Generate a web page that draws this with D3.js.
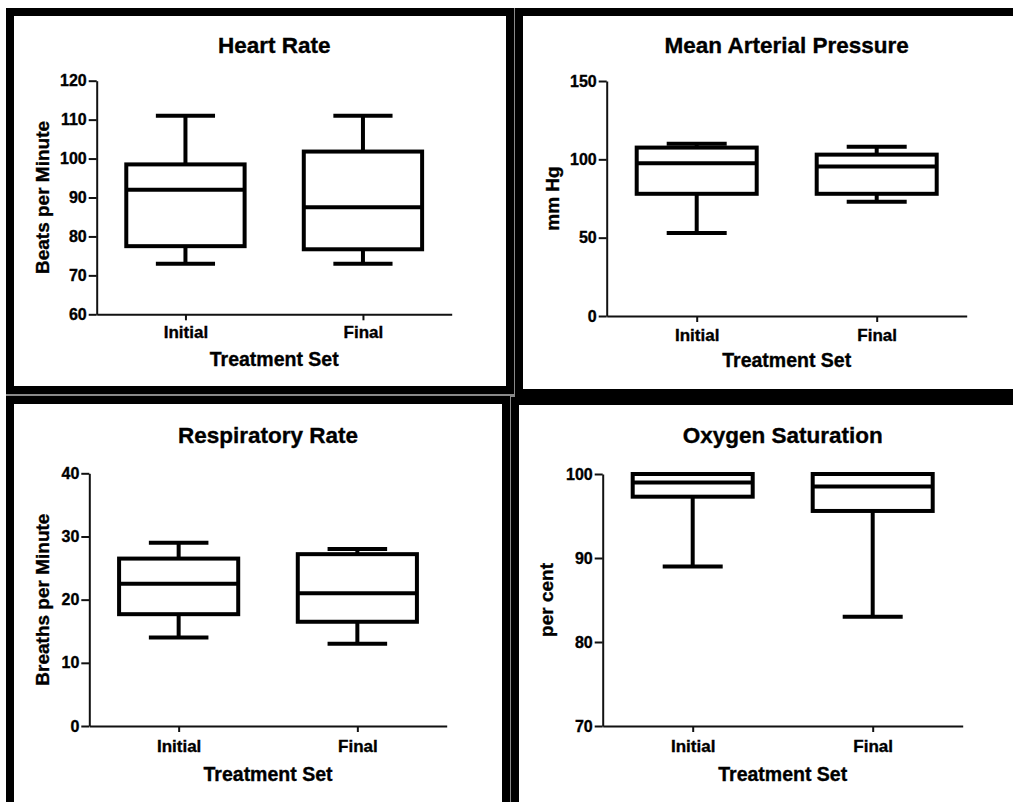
<!DOCTYPE html>
<html>
<head>
<meta charset="utf-8">
<script src="https://cdn.jsdelivr.net/npm/d3@7"></script>
<style>
  body { margin: 0; background: #fff; }
  svg { display: block; font-family: "Liberation Sans", Arial, sans-serif; font-weight: bold; }
  svg text { stroke: #000; stroke-width: 0.35; }
  .axis path, .axis line { stroke: #111; stroke-width: 2; }
  .axis text { fill: #000; font-weight: bold; }
</style>
</head>
<body>
<svg id="chart" width="1013" height="802"></svg>
<script>
// categories on the x axis
var categories = ["Initial", "Final"];

// box stats: [min, q1, median, q3, max]
var hrInitial = [73, 77.5, 92, 98.5, 111];
var hrFinal = [73, 76.7, 87.5, 101.8, 111];
var mapInitial = [53, 78, 97.5, 107.5, 110];
var mapFinal = [73, 78, 95.5, 103, 108];
var rrInitial = [14, 17.7, 22.5, 26.5, 29];
var rrFinal = [13, 16.5, 21, 27.2, 28];
var spoInitial = [89, 97.3, 99, 100, 100];
var spoFinal = [83, 95.6, 98.5, 100, 100];

// tick values for each y axis
var hrTicks = [60, 70, 80, 90, 100, 110, 120];
var mapTicks = [0, 50, 100, 150];
var rrTicks = [0, 10, 20, 30, 40];
var spoTicks = [70, 80, 90, 100];

var titles = ["Heart Rate", "Mean Arterial Pressure", "Respiratory Rate", "Oxygen Saturation"];
var yLabels = ["Beats per Minute", "mm Hg", "Breaths per Minute", "per cent"];
var xLabel = "Treatment Set";

// panel layout (frame and plot area, in pixels)
var panels = [
  { frame: [6, 8, 508, 386], left: 96.7, right: 451.7, top: 80.7, bottom: 314.3,
    titleY: 53.3, tickY: 337.7, xLabelY: 366, yLabelX: 48.6,
    stats: [hrInitial, hrFinal], ticks: hrTicks },
  { frame: [515, 8, 520, 389], left: 606.7, right: 966.7, top: 81, bottom: 316,
    titleY: 53.3, tickY: 340.7, xLabelY: 367.3, yLabelX: 558.6,
    stats: [mapInitial, mapFinal], ticks: mapTicks },
  { frame: [6, 396, 504, 430], left: 89.3, right: 446.7, top: 473.3, bottom: 726,
    titleY: 443.3, tickY: 751.7, xLabelY: 780.7, yLabelX: 48.6,
    stats: [rrInitial, rrFinal], ticks: rrTicks },
  { frame: [511, 397, 520, 430], left: 602.7, right: 962.7, top: 474, bottom: 726,
    titleY: 443.3, tickY: 751.7, xLabelY: 780.7, yLabelX: 553,
    stats: [spoInitial, spoFinal], ticks: spoTicks }
];

var svg = d3.select("#chart");

// thin grey seams show between the frames
svg.append("rect")
  .attr("x", 6).attr("y", 8)
  .attr("width", 1007).attr("height", 794)
  .attr("fill", "#8a8a8a");

panels.forEach(function(p, i) {
  var g = svg.append("g");

  // black frame around the panel
  g.append("rect")
    .attr("x", p.frame[0] + 4)
    .attr("y", p.frame[1] + 4)
    .attr("width", p.frame[2] - 8)
    .attr("height", p.frame[3] - 8)
    .attr("fill", "#fff")
    .attr("stroke", "#000")
    .attr("stroke-width", 8);

  var x = d3.scalePoint()
    .domain(categories)
    .range([p.left, p.right])
    .padding(0.5);

  var y = d3.scaleLinear()
    .domain(d3.extent(p.ticks))
    .range([p.bottom, p.top]);

  var boxW = (p.right - p.left) / 3;

  // y axis
  var yAxis = g.append("g")
    .attr("class", "axis")
    .attr("transform", "translate(" + p.left + ",0)")
    .call(d3.axisLeft(y).tickValues(p.ticks).tickSize(8).tickSizeOuter(0).tickPadding(2));
  yAxis.selectAll("text").style("font-size", "16px");

  // x axis
  var xAxis = g.append("g")
    .attr("class", "axis")
    .attr("transform", "translate(0," + p.bottom + ")")
    .call(d3.axisBottom(x).tickSize(6).tickSizeOuter(0));
  xAxis.selectAll("text")
    .style("font-size", "17px")
    .attr("y", p.tickY - p.bottom)
    .attr("dy", 0);

  // boxes
  var boxes = g.selectAll(".box")
    .data(p.stats)
    .enter()
    .append("g")
    .attr("class", "box");

  boxes.each(function(s, j) {
    var b = d3.select(this);
    var cx = x(categories[j]);
    var line = function(x1, y1, x2, y2) {
      b.append("line")
        .attr("x1", x1).attr("y1", y1).attr("x2", x2).attr("y2", y2)
        .attr("stroke", "#000").attr("stroke-width", 4);
    };
    // whiskers
    line(cx, y(s[0]), cx, y(s[1]));
    line(cx, y(s[3]), cx, y(s[4]));
    line(cx - boxW / 4, y(s[0]), cx + boxW / 4, y(s[0]));
    line(cx - boxW / 4, y(s[4]), cx + boxW / 4, y(s[4]));
    // box
    b.append("rect")
      .attr("x", cx - boxW / 2)
      .attr("y", y(s[3]))
      .attr("width", boxW)
      .attr("height", y(s[1]) - y(s[3]))
      .attr("fill", "none")
      .attr("stroke", "#000")
      .attr("stroke-width", 4);
    // median
    line(cx - boxW / 2, y(s[2]), cx + boxW / 2, y(s[2]));
  });

  // titles and labels
  g.append("text")
    .attr("x", (p.left + p.right) / 2)
    .attr("y", p.titleY)
    .attr("text-anchor", "middle")
    .style("font-size", "22.5px")
    .text(titles[i]);

  g.append("text")
    .attr("x", (p.left + p.right) / 2)
    .attr("y", p.xLabelY)
    .attr("text-anchor", "middle")
    .style("font-size", "19.5px")
    .text(xLabel);

  g.append("text")
    .attr("transform", "translate(" + p.yLabelX + "," + ((p.top + p.bottom) / 2) + ") rotate(-90)")
    .attr("text-anchor", "middle")
    .style("font-size", "19px")
    .text(yLabels[i]);
});
</script>
</body>
</html>
